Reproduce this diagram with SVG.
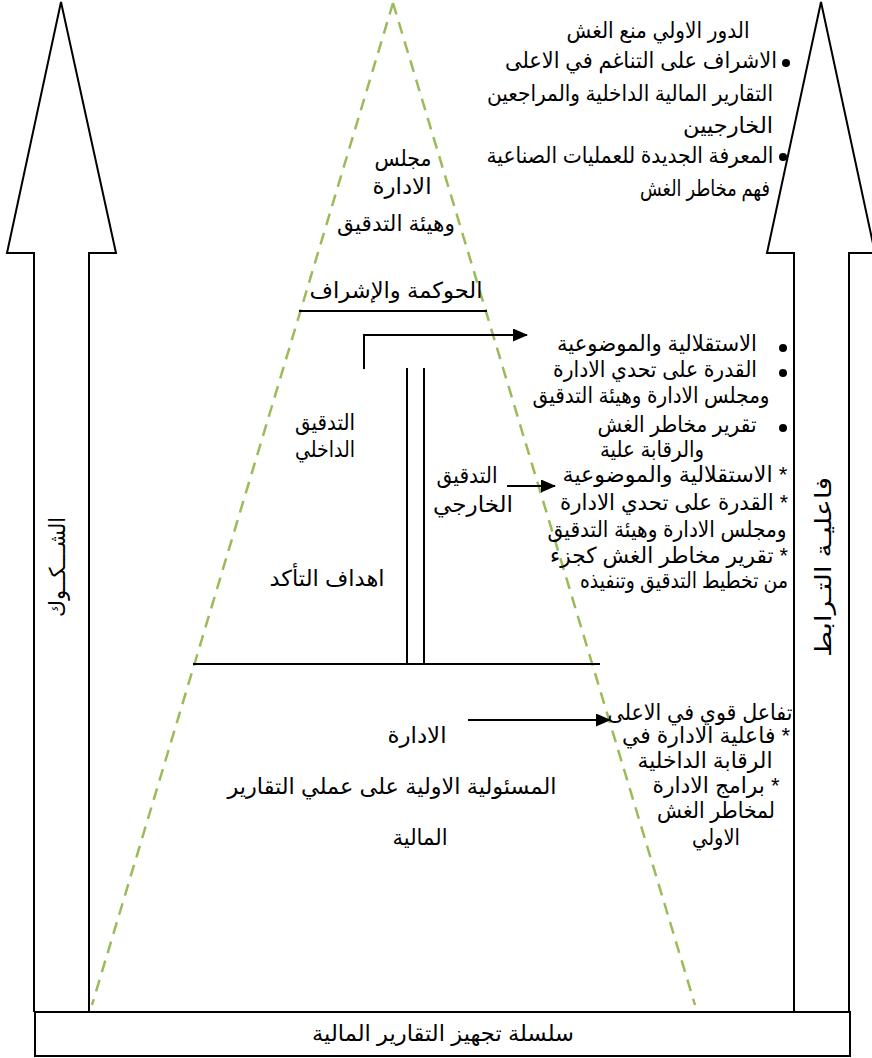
<svg xmlns="http://www.w3.org/2000/svg" width="872" height="1058" viewBox="0 0 872 1058">
<style>
text{font-family:"Liberation Sans","DejaVu Sans",sans-serif;font-size:22px;fill:#000;direction:rtl;text-anchor:middle}
.ln{stroke:#000;stroke-width:2;fill:none}
.out{stroke:#000;stroke-width:2;fill:#fff;stroke-linejoin:miter}
.gr{stroke:#9BBB59;stroke-width:2.5;stroke-dasharray:12,8;fill:none}
</style>
<defs>
<marker id="ah" viewBox="0 0 15 13" refX="14" refY="6.5" markerWidth="15" markerHeight="13" markerUnits="userSpaceOnUse" orient="auto">
<path d="M0,0 L15,6.5 L0,13 z" fill="#000"/>
</marker>
</defs>
<rect width="872" height="1058" fill="#fff"/>

<g id="arrow-left">
<path class="out" d="M34,1012 V253 H7 L61,2 L116,253 H89 V1012"/>
<text transform="translate(65,567) rotate(-90)" x="0" y="0" textLength="100" lengthAdjust="spacingAndGlyphs">الشـــكــوك</text>
</g>
<g id="arrow-right">
<path class="out" d="M794,1012 V253 H767 L821,2 L875,253 H849 V1012"/>
<text transform="translate(831,567) rotate(-90)" x="0" y="0" textLength="180" lengthAdjust="spacingAndGlyphs">فاعليـة التـرابط</text>
</g>
<g id="base-box">
<rect class="out" x="35" y="1012" width="815" height="44"/>
<text x="443" y="1041" textLength="262" lengthAdjust="spacingAndGlyphs">سلسلة تجهيز  التقارير  المالية</text>
</g>

<g id="pyramid">
<path class="gr" d="M393,3 L92,1005"/>
<path class="gr" d="M393,3 L695,1005"/>
</g>

<g id="top-notes">
<text x="658" y="38" textLength="183" lengthAdjust="spacingAndGlyphs">الدور الاولي منع الغش</text>
<circle cx="786" cy="63" r="4"/>
<text x="641" y="68" textLength="272" lengthAdjust="spacingAndGlyphs">الاشراف على التناغم في الاعلى</text>
<text x="630" y="101" textLength="286" lengthAdjust="spacingAndGlyphs">التقارير المالية الداخلية والمراجعين</text>
<text x="728" y="133" textLength="90" lengthAdjust="spacingAndGlyphs">الخارجيين</text>
<circle cx="783" cy="157" r="4"/>
<text x="630" y="163" textLength="287" lengthAdjust="spacingAndGlyphs">المعرفة الجديدة للعمليات الصناعية</text>
<text x="705" y="196" textLength="130" lengthAdjust="spacingAndGlyphs">فهم مخاطر الغش</text>
</g>

<g id="board">
<text x="403" y="166" textLength="57" lengthAdjust="spacingAndGlyphs">مجلس</text>
<text x="402" y="194" textLength="59" lengthAdjust="spacingAndGlyphs">الادارة</text>
<text x="396" y="231" textLength="118" lengthAdjust="spacingAndGlyphs">وهيئة التدقيق</text>
</g>
<g id="governance">
<text x="396" y="298" textLength="173" lengthAdjust="spacingAndGlyphs">الحوكمة والإشراف</text>
<path class="ln" d="M299,311 H487"/>
</g>

<g id="internal-audit">
<text x="325" y="430" textLength="60" lengthAdjust="spacingAndGlyphs">التدقيق</text>
<text x="325" y="457" textLength="60" lengthAdjust="spacingAndGlyphs">الداخلي</text>
</g>
<g id="external-audit">
<text x="467" y="483" textLength="61" lengthAdjust="spacingAndGlyphs">التدقيق</text>
<text x="473" y="512" textLength="80" lengthAdjust="spacingAndGlyphs">الخارجي</text>
</g>
<g id="assurance">
<text x="327" y="586" textLength="115" lengthAdjust="spacingAndGlyphs">اهداف التأكد</text>
</g>
<g id="dividers">
<path class="ln" d="M407,368 V664 M424,368 V664"/>
<path class="ln" d="M193,664 H600"/>
</g>

<g id="management">
<text x="417" y="743" textLength="59" lengthAdjust="spacingAndGlyphs">الادارة</text>
<text x="392" y="794" textLength="329" lengthAdjust="spacingAndGlyphs">المسئولية الاولية على عملي التقارير</text>
<text x="420" y="845" textLength="55" lengthAdjust="spacingAndGlyphs">المالية</text>
</g>

<g id="internal-notes">
<circle cx="783" cy="348" r="4"/>
<text x="657" y="351" textLength="200" lengthAdjust="spacingAndGlyphs">الاستقلالية والموضوعية</text>
<circle cx="783" cy="373" r="4"/>
<text x="655" y="377" textLength="204" lengthAdjust="spacingAndGlyphs">القدرة على تحدي الادارة</text>
<text x="651" y="403" textLength="237" lengthAdjust="spacingAndGlyphs">ومجلس الادارة وهيئة التدقيق</text>
<circle cx="783" cy="428" r="4"/>
<text x="677" y="432" textLength="159" lengthAdjust="spacingAndGlyphs">تقرير مخاطر الغش</text>
<text x="652" y="457" textLength="104" lengthAdjust="spacingAndGlyphs">والرقابة علية</text>
</g>
<g id="external-notes">
<text x="675" y="482" textLength="225" lengthAdjust="spacingAndGlyphs">* الاستقلالية والموضوعية</text>
<text x="674" y="510" textLength="228" lengthAdjust="spacingAndGlyphs">* القدرة على تحدي الادارة</text>
<text x="667" y="537" textLength="239" lengthAdjust="spacingAndGlyphs">ومجلس الادارة وهيئة التدقيق</text>
<text x="669" y="563" textLength="238" lengthAdjust="spacingAndGlyphs">* تقرير مخاطر الغش كجزء</text>
<text x="684" y="588" textLength="208" lengthAdjust="spacingAndGlyphs">من تخطيط التدقيق وتنفيذه</text>
</g>
<g id="management-notes">
<text x="700" y="720" textLength="185" lengthAdjust="spacingAndGlyphs">تفاعل قوي في الاعلى</text>
<text x="706" y="743" textLength="168" lengthAdjust="spacingAndGlyphs">* فاعلية الادارة في</text>
<text x="705" y="768" textLength="135" lengthAdjust="spacingAndGlyphs">الرقابة الداخلية</text>
<text x="716" y="793" textLength="127" lengthAdjust="spacingAndGlyphs">* برامج الادارة</text>
<text x="716" y="818" textLength="118" lengthAdjust="spacingAndGlyphs">لمخاطر الغش</text>
<text x="716" y="845" textLength="48" lengthAdjust="spacingAndGlyphs">الاولي</text>
</g>

<g id="connectors">
<path class="ln" d="M364,369 V335 H527" marker-end="url(#ah)"/>
<path class="ln" d="M507,486 H555" marker-end="url(#ah)"/>
<path class="ln" d="M468,720 H610" marker-end="url(#ah)"/>
</g>
</svg>
